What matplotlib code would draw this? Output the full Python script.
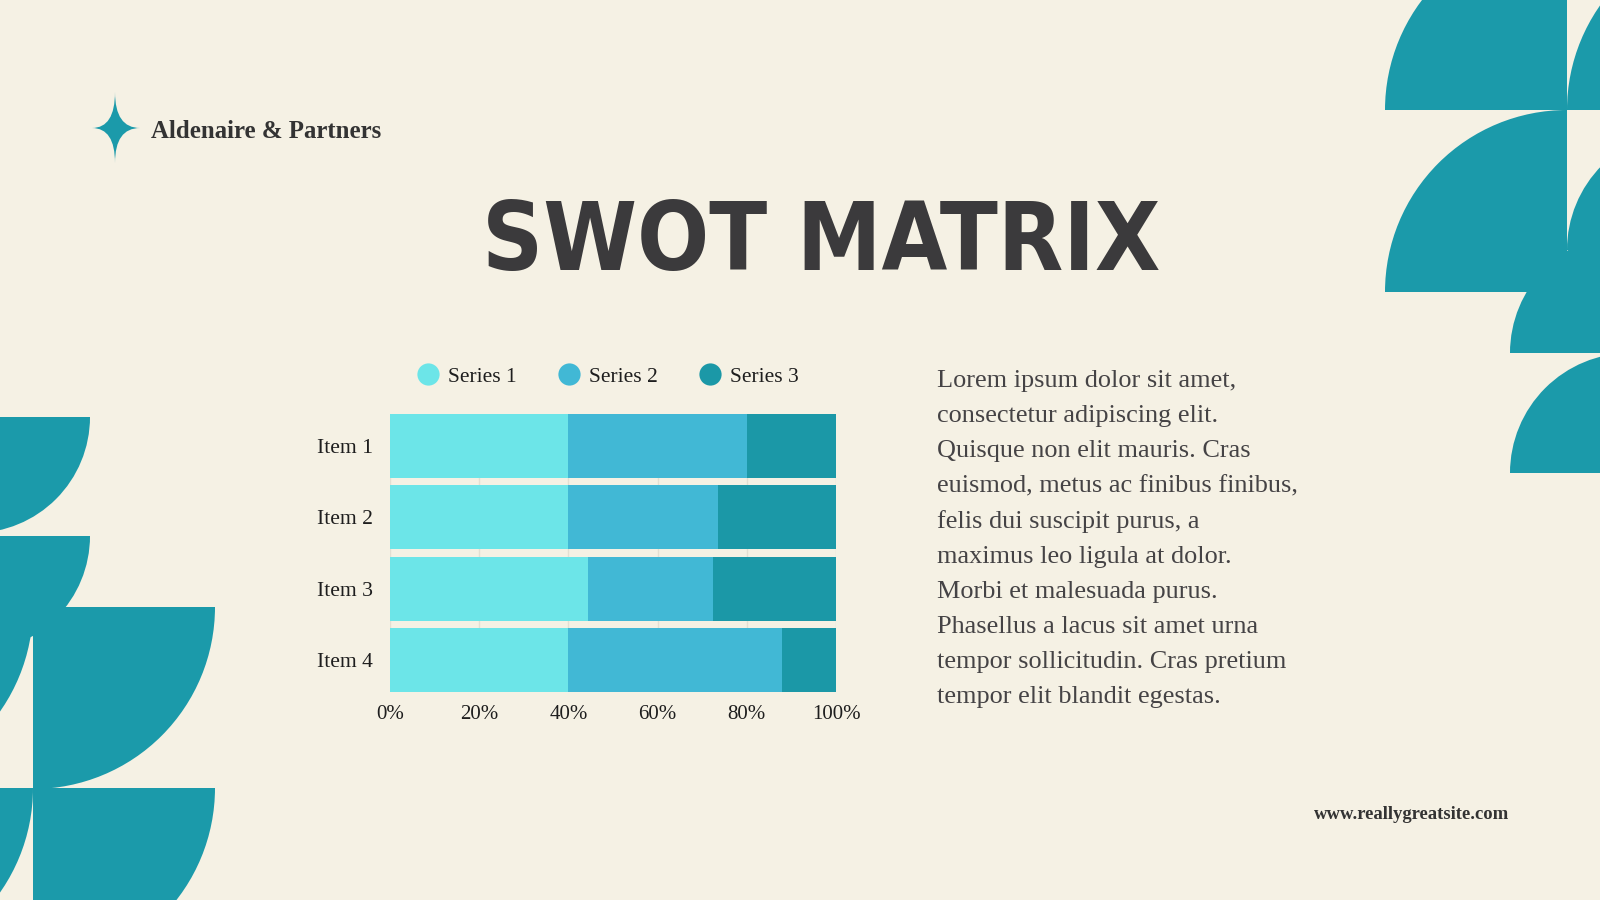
import matplotlib
matplotlib.use('Agg')
import matplotlib.pyplot as plt
from matplotlib.patches import Wedge, PathPatch
from matplotlib.path import Path
from matplotlib.lines import Line2D

# chart data (percent of each item)
items = ['Item 1', 'Item 2', 'Item 3', 'Item 4']
series_names = ['Series 1', 'Series 2', 'Series 3']
series1 = [40, 40, 44.5, 40]
series2 = [40, 33.5, 28, 48]
series3 = [20, 26.5, 27.5, 12]
xtick_vals = [0, 20, 40, 60, 80, 100]
xtick_labels = ['0%', '20%', '40%', '60%', '80%', '100%']

title_text = 'SWOT MATRIX'
company = 'Aldenaire & Partners'
website = 'www.reallygreatsite.com'
para_lines = [
    'Lorem ipsum dolor sit amet,',
    'consectetur adipiscing elit.',
    'Quisque non elit mauris. Cras',
    'euismod, metus ac finibus finibus,',
    'felis dui suscipit purus, a',
    'maximus leo ligula at dolor.',
    'Morbi et malesuada purus.',
    'Phasellus a lacus sit amet urna',
    'tempor sollicitudin. Cras pretium',
    'tempor elit blandit egestas.',
]

BG = '#f5f1e4'
TEAL = '#1b9aaa'
colors = ['#6ce5e8', '#41b8d5', '#1b98a7']
DARK = '#3b3a3c'

plt.rcParams['font.family'] = ['Liberation Serif', 'DejaVu Serif']

fig = plt.figure(figsize=(16, 9), dpi=100)
fig.patch.set_facecolor(BG)

# background layer in pixel coords (y down)
bg = fig.add_axes([0, 0, 1, 1])
bg.set_xlim(0, 1600)
bg.set_ylim(900, 0)
bg.axis('off')
bg.set_zorder(0)

# decorative quarter discs: (cx, cy, r, theta1, theta2)
shapes = [
    # right side, up-left quadrants
    (1567, 110, 182, 180, 270),
    (1567, 292, 182, 180, 270),
    (1749, 110, 182, 180, 270),
    (1687, 250, 120, 180, 270),
    (1630, 353, 120, 180, 270),
    (1630, 473, 120, 180, 270),
    # left side, down-right quadrants
    (-26, 417, 116, 0, 90),
    (-26, 536, 116, 0, 90),
    (-149, 607, 182, 0, 90),
    (33, 607, 182, 0, 90),
    (-149, 788, 182, 0, 90),
    (33, 788, 182, 0, 90),
]
for cx, cy, r, t1, t2 in shapes:
    bg.add_patch(Wedge((cx, cy), r, t1, t2, facecolor=TEAL, edgecolor='none'))

# logo star
c = (115, 128)
star = Path([(115, 92), c, (140, 128), c, (115, 163), c, (92, 128), c, (115, 92)],
            [Path.MOVETO, Path.CURVE3, Path.CURVE3, Path.CURVE3, Path.CURVE3,
             Path.CURVE3, Path.CURVE3, Path.CURVE3, Path.CURVE3])
bg.add_patch(PathPatch(star, facecolor=TEAL, edgecolor='none'))

bg.text(151, 138, company, fontsize=17.9, fontweight='bold', color='#333333',
        ha='left', va='baseline')

bg.text(821, 270, title_text, fontsize=68, fontweight='heavy', fontstretch='condensed',
        color=DARK, family=['DejaVu Sans'], ha='center', va='baseline')

for i, line in enumerate(para_lines):
    bg.text(937, 387 + i * 35.15, line, fontsize=18.9, color='#454345',
            ha='left', va='baseline')

bg.text(1509, 819, website, fontsize=13.4, fontweight='bold', color='#333333',
        ha='right', va='baseline')

# chart
ax = fig.add_axes([390 / 1600, 1 - 692 / 900, 446 / 1600, 278 / 900])
ax.set_zorder(2)
ax.set_facecolor('none')
y = list(range(len(items)))
left2 = [a for a in series1]
left3 = [a + b for a, b in zip(series1, series2)]
ax.barh(y, series1, height=0.9, color=colors[0], label=series_names[0])
ax.barh(y, series2, left=left2, height=0.9, color=colors[1], label=series_names[1])
ax.barh(y, series3, left=left3, height=0.9, color=colors[2], label=series_names[2])
ax.set_xlim(0, 100)
ax.set_ylim(3.45, -0.45)
ax.set_yticks(y)
ax.set_yticklabels(items, fontsize=15.6, color='#1e1e1e')
ax.set_xticks(xtick_vals)
ax.set_xticklabels(xtick_labels, fontsize=15, color='#1e1e1e')
ax.tick_params(axis='both', length=0)
ax.tick_params(axis='y', pad=12)
ax.tick_params(axis='x', pad=9.5)
for s in ax.spines.values():
    s.set_visible(False)
ax.grid(axis='x', color='#e3dfd2', linewidth=1)
ax.set_axisbelow(True)

handles = [Line2D([], [], marker='o', linestyle='', markersize=16, color=col,
                  markeredgewidth=0) for col in colors]
ax.legend(handles, series_names, loc='center', bbox_to_anchor=(0.489, 1 + 37.5 / 278),
          ncol=3, frameon=False, fontsize=15.5, handlelength=1.0, handletextpad=0.42,
          columnspacing=1.95, labelcolor='#1e1e1e')

fig.savefig('out.png', dpi=100, facecolor=BG)
